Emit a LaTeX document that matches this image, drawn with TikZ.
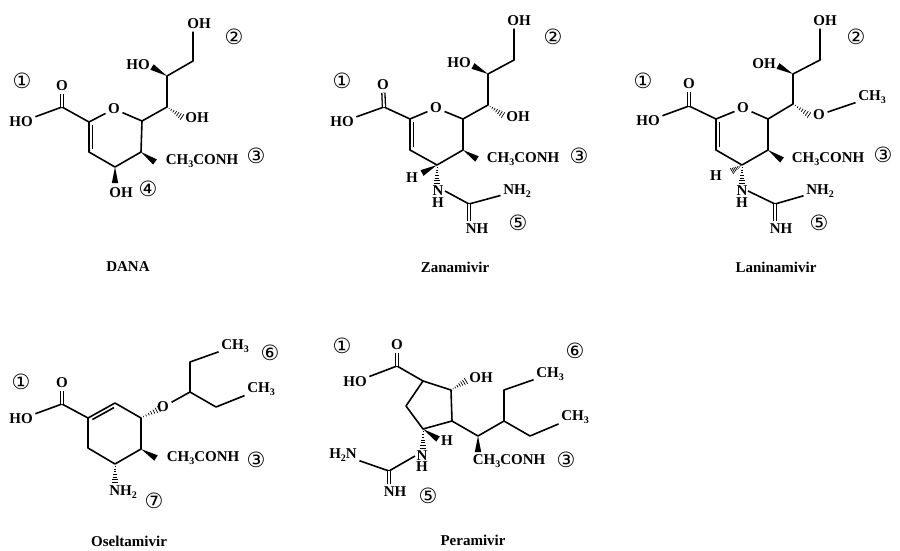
\documentclass[tikz,border=0pt]{standalone}
\usepackage{fontspec}
\setmainfont{Liberation Serif}
\newfontfamily\circfont{DejaVu Sans}
\usetikzlibrary{positioning,calc}

\newcommand{\subn}[1]{\raisebox{-3pt}{\fontsize{10}{10}\selectfont #1}}
\newcommand{\wedgebond}[2]{\fill (#1) -- ($(#2)!3.2pt!90:(#1)$) -- ($(#2)!3.2pt!-90:(#1)$) -- cycle;}
\newcommand{\hashbond}[2]{\foreach \t in {1,...,7}
  \draw[line width=.7pt] ($(#1)!\t/7!(#2)!{\t/7*3.2pt}!90:(#1)$) -- ($(#1)!\t/7!(#2)!{-\t/7*3.2pt}!90:(#1)$);}
\newcommand{\innerbond}[3]{\draw[mybond] ($(#1)!.1!(#2)!#3!90:(#2)$) -- ($(#1)!.9!(#2)!#3!90:(#2)$);}

\begin{document}
\begin{tikzpicture}[
x=1pt,y=-1pt,
mybond/.style={
  line width=1.6pt,
  line join=round},
mydouble/.style={
  line width=1.3pt,
  double,
  double distance=1.8pt},
myatom/.style={
  inner sep=2.5pt,
  font=\fontsize{15}{15}\selectfont\bfseries},
mystack/.style={
  inner sep=0pt,
  align=center,
  font=\fontsize{15}{11.7}\selectfont\bfseries},
mytag/.style={
  inner sep=0pt,
  font=\fontsize{21}{21}\selectfont\circfont},
mytitle/.style={
  inner sep=0pt,
  font=\fontsize{15}{15}\selectfont\bfseries}
]
\useasboundingbox (0,0) rectangle (900,551);

% DANA
\foreach \Atomo/\X/\Y in {dA/62/107,dB/89/122,dC/89/152,dD/115/167,dE/141/152,dF/142/121,
  dG/167/107,dH/167/76,dI/193/61,dJ/155/162,dK/115/183,dL/182/117,dM/152/67}
  \coordinate (\Atomo) at (\X,\Y);
\node[myatom] (dO1) at (62,86) {O};
\node[myatom] (dHO) at (21,122) {HO};
\node[myatom] (dO2) at (114,109) {O};
\node[myatom] (dOHa) at (199,24) {OH};
\node[myatom] (dHOb) at (138,65) {HO};
\node[myatom] (dOHc) at (197,118) {OH};
\node[myatom] (dAmide) at (202,161) {CH\subn{3}CONH};
\node[myatom] (dOHd) at (121,193) {OH};
\draw[mybond] (dHO) -- (dA) -- (dB) -- (dC) -- (dD) -- (dE) -- (dF) -- (dG) -- (dH) -- (dI) -- (dI |- dOHa.south);
\draw[mybond] (dB) -- (dO2) -- (dF);
\draw[mydouble] (dA) -- (dO1);
\innerbond{dB}{dC}{3.5pt}
\wedgebond{dE}{dJ}
\wedgebond{dD}{dK}
\wedgebond{dH}{dM}
\hashbond{dG}{dL}
\node[mytag] (dTa) at (22,81) {①};
\node[mytag] (dTb) at (234,37) {②};
\node[mytag] (dTc) at (256,156) {③};
\node[mytag] (dTd) at (148,189) {④};
\node[mytitle] (dName) at (128,267) {DANA};

% Zanamivir
\foreach \Atomo/\X/\Y in {zA/384/107,zB/410/119,zC/410/150,zD/437/165,zE/463/150,zF/463/119,
  zG/488/105,zH/488/74,zI/514/60,zJ/477/159,zK/422/173,zL/437/183,zM/503/115,zN/473/66,zP/469/204,zQ/445/191}
  \coordinate (\Atomo) at (\X,\Y);
\node[myatom] (zO1) at (383,85) {O};
\node[myatom] (zHO) at (342,122) {HO};
\node[myatom] (zO2) at (436,108) {O};
\node[myatom] (zOHa) at (519,21) {OH};
\node[myatom] (zHOb) at (459,63) {HO};
\node[myatom] (zOHc) at (518,117) {OH};
\node[myatom] (zAmide) at (523,159) {CH\subn{3}CONH};
\node[myatom] (zHa) at (412,178) {H};
\node[mystack] (zNb) at (438,196.5) {N\\H};
\node[myatom] (zNH2) at (517,191) {NH\subn{2}};
\node[myatom] (zNH) at (477,229) {NH};
\draw[mybond] (zHO) -- (zA) -- (zB) -- (zC) -- (zD) -- (zE) -- (zF) -- (zG) -- (zH) -- (zI) -- (zI |- zOHa.south);
\draw[mybond] (zB) -- (zO2) -- (zF);
\draw[mybond] (zQ) -- (zP) -- (zNH2);
\draw[mydouble] (zA) -- (zO1);
\draw[mydouble] (zP) -- (zNH.north -| zP);
\innerbond{zB}{zC}{3.5pt}
\wedgebond{zE}{zJ}
\wedgebond{zD}{zK}
\wedgebond{zH}{zN}
\hashbond{zD}{zL}
\hashbond{zG}{zM}
\node[mytag] (zTa) at (342,81) {①};
\node[mytag] (zTb) at (553,37) {②};
\node[mytag] (zTc) at (579,156) {③};
\node[mytag] (zTd) at (518,223) {⑤};
\node[mytitle] (zName) at (455,267) {Zanamivir};

% Laninamivir
\foreach \Atomo/\X/\Y in {lA/689/106,lB/716/119,lC/716/150,lD/742/165,lE/768/150,lF/768/119,
  lG/793/104,lH/793/74,lI/820/60,lJ/782/160,lK/732/171,lL/742/183,lM/809/115,lN/778/66,lP/775/204,lQ/748/191}
  \coordinate (\Atomo) at (\X,\Y);
\node[myatom] (lO1) at (689,84) {O};
\node[myatom] (lHO) at (648,121) {HO};
\node[myatom] (lO2) at (743,108) {O};
\node[myatom] (lOHa) at (825,21) {OH};
\node[myatom] (lOHb) at (764,64) {OH};
\node[myatom] (lO3) at (819,115) {O};
\node[myatom] (lCH3) at (872,97) {CH\subn{3}};
\node[myatom] (lAmide) at (828,159) {CH\subn{3}CONH};
\node[myatom] (lHa) at (716,176) {H};
\node[mystack] (lNb) at (742,196.5) {N\\H};
\node[myatom] (lNH2) at (820,191) {NH\subn{2}};
\node[myatom] (lNH) at (781,229) {NH};
\draw[mybond] (lHO) -- (lA) -- (lB) -- (lC) -- (lD) -- (lE) -- (lF) -- (lG) -- (lH) -- (lI) -- (lI |- lOHa.south);
\draw[mybond] (lB) -- (lO2) -- (lF);
\draw[mybond] (lQ) -- (lP) -- (lNH2);
\draw[mybond] (lO3) -- (lCH3);
\draw[mydouble] (lA) -- (lO1);
\draw[mydouble] (lP) -- (lNH.north -| lP);
\innerbond{lB}{lC}{3.5pt}
\wedgebond{lE}{lJ}
\wedgebond{lH}{lN}
\hashbond{lD}{lK}
\hashbond{lD}{lL}
\hashbond{lG}{lM}
\node[mytag] (lTa) at (643,81) {①};
\node[mytag] (lTb) at (856,37) {②};
\node[mytag] (lTc) at (883,155) {③};
\node[mytag] (lTd) at (819,223) {⑤};
\node[mytitle] (lName) at (776,267) {Laninamivir};

% Oseltamivir
\foreach \Atomo/\X/\Y in {oA/62/404,oB/88/418,oC/115/403,oD/141/418,oE/141/449,oF/115/464,oG/88/448,
  oH/156/458,oI/115/482,oJ/159/409,oK/190/392,oL/190/362,oM/216/407}
  \coordinate (\Atomo) at (\X,\Y);
\node[myatom] (oO1) at (62,383) {O};
\node[myatom] (oHO) at (21,419) {HO};
\node[myatom] (oO2) at (163,407) {O};
\node[myatom] (oCH3a) at (235,346) {CH\subn{3}};
\node[myatom] (oCH3b) at (261,389) {CH\subn{3}};
\node[myatom] (oAmide) at (203,458) {CH\subn{3}CONH};
\node[myatom] (oNH2) at (123,492) {NH\subn{2}};
\draw[mybond] (oHO) -- (oA) -- (oB) -- (oC) -- (oD) -- (oE) -- (oF) -- (oG) -- (oB);
\draw[mybond] (oO2) -- (oK) -- (oL) -- (oCH3a);
\draw[mybond] (oK) -- (oM) -- (oCH3b);
\draw[mydouble] (oA) -- (oO1);
\innerbond{oB}{oC}{-3.5pt}
\wedgebond{oE}{oH}
\hashbond{oD}{oJ}
\hashbond{oF}{oI}
\node[mytag] (oTa) at (21,382) {①};
\node[mytag] (oTb) at (270,353) {⑥};
\node[mytag] (oTc) at (256,460) {③};
\node[mytag] (oTd) at (154,501) {⑦};
\node[mytitle] (oName) at (129,541) {Oseltamivir};

% Peramivir
\foreach \Atomo/\X/\Y in {pA/397/366,pB/423/381,pC/451/390,pD/452/421,pE/423/429,pF/406/406,
  pG/466/381,pH/478/436,pI/478/452,pJ/504/421,pK/504/390,pL/530/436,pM/438/439,pN/423/448,pP/389/471,pQ/415/456}
  \coordinate (\Atomo) at (\X,\Y);
\node[myatom] (pO1) at (397,345) {O};
\node[myatom] (pHO) at (355,382) {HO};
\node[myatom] (pOHa) at (481,378) {OH};
\node[myatom] (pCH3a) at (550,374) {CH\subn{3}};
\node[myatom] (pCH3b) at (575,417) {CH\subn{3}};
\node[myatom] (pAmide) at (509,461) {CH\subn{3}CONH};
\node[myatom] (pHa) at (447,441) {H};
\node[mystack] (pNb) at (422,461) {N\\H};
\node[myatom] (pH2N) at (343,455) {H\subn{2}N};
\node[myatom] (pNH) at (395,492) {NH};
\draw[mybond] (pHO) -- (pA) -- (pB) -- (pC) -- (pD) -- (pE) -- (pF) -- (pB);
\draw[mybond] (pD) -- (pH) -- (pJ) -- (pK) -- (pCH3a);
\draw[mybond] (pJ) -- (pL) -- (pCH3b);
\draw[mybond] (pQ) -- (pP) -- (pH2N);
\draw[mydouble] (pA) -- (pO1);
\draw[mydouble] (pP) -- (pNH.north -| pP);
\wedgebond{pH}{pI}
\wedgebond{pE}{pM}
\hashbond{pC}{pG}
\hashbond{pE}{pN}
\node[mytag] (pTa) at (342,346) {①};
\node[mytag] (pTb) at (575,351) {⑥};
\node[mytag] (pTc) at (566,460) {③};
\node[mytag] (pTd) at (428,496) {⑤};
\node[mytitle] (pName) at (473,540) {Peramivir};
\end{tikzpicture}
\end{document}
